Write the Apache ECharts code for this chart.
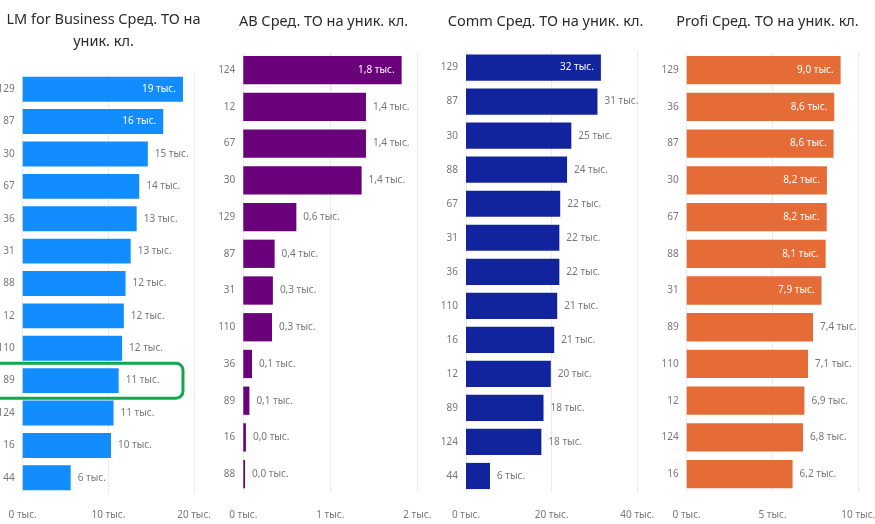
<!DOCTYPE html>
<html>
<head>
<meta charset="utf-8">
<script src="https://cdn.jsdelivr.net/npm/echarts@6/dist/echarts.min.js"></script>
<style>
html, body { margin: 0; padding: 0; background: #fff; }
#chart { width: 875px; height: 524px; }
</style>
</head>
<body>
<div id="chart"></div>
<script>
// Average turnover per unique client, by branch, for four segments (thousands)
const lmCategories = ['129', '87', '30', '67', '36', '31', '88', '12', '110', '89', '124', '16', '44'];
const lmValues = [18.7, 16.4, 14.6, 13.6, 13.3, 12.6, 12.0, 11.8, 11.6, 11.2, 10.6, 10.3, 5.6];
const lmTicks = [0, 10, 20];

const abCategories = ['124', '12', '67', '30', '129', '87', '31', '110', '36', '89', '16', '88'];
const abValues = [1.82, 1.41, 1.41, 1.36, 0.61, 0.36, 0.34, 0.33, 0.10, 0.07, 0.03, 0.02];
const abTicks = [0, 1, 2];

const commCategories = ['129', '87', '30', '88', '67', '31', '36', '110', '16', '12', '89', '124', '44'];
const commValues = [31.5, 30.7, 24.6, 23.6, 22.0, 21.8, 21.8, 21.3, 20.6, 19.8, 18.1, 17.6, 5.6];
const commTicks = [0, 20, 40];

const profiCategories = ['129', '36', '87', '30', '67', '88', '31', '89', '110', '12', '124', '16'];
const profiValues = [8.97, 8.6, 8.56, 8.17, 8.16, 8.1, 7.86, 7.36, 7.07, 6.86, 6.78, 6.17];
const profiTicks = [0, 5, 10];

const highlightCategory = '89';

const FONT = '"Segoe UI", "Noto Sans", "Open Sans", sans-serif';
const LABEL_SIZE = 10;

const panels = [
  { title: 'LM for Business Сред. ТО на\nуник. кл.', cats: lmCategories, vals: lmValues, ticks: lmTicks, digits: 0,
    color: '#118DFF', left: 22.7, width: 171.4, top: 73, height: 421, titleX: 98.5, titleY: 4 },
  { title: 'AB Сред. ТО на уник. кл.', cats: abCategories, vals: abValues, ticks: abTicks, digits: 1,
    color: '#6B007B', left: 243.3, width: 174, top: 51.8, height: 440.7, titleX: 318.5, titleY: 5.5 },
  { title: 'Comm Сред. ТО на уник. кл.', cats: commCategories, vals: commValues, ticks: commTicks, digits: 0,
    color: '#12239E', left: 466, width: 171.3, top: 50.6, height: 442.4, titleX: 540.5, titleY: 5.5 },
  { title: 'Profi Сред. ТО на уник. кл.', cats: profiCategories, vals: profiValues, ticks: profiTicks, digits: 1,
    color: '#E66C37', left: 686.7, width: 171.6, top: 51.8, height: 440.7, titleX: 762.5, titleY: 5.5 }
];

function fmt(v, digits) {
  return (digits === 0 ? String(Math.round(v)) : v.toFixed(digits).replace('.', ',')) + ' тыс.';
}

const measureCtx = document.createElement('canvas').getContext('2d');
measureCtx.font = LABEL_SIZE + 'px ' + FONT;
function textWidth(s) { return measureCtx.measureText(s).width; }

const option = {
  backgroundColor: '#ffffff',
  animation: false,
  title: [], grid: [], xAxis: [], yAxis: [], series: []
};

panels.forEach((p, i) => {
  const max = p.ticks[p.ticks.length - 1];
  const step = p.ticks[1] - p.ticks[0];
  option.title.push({
    text: p.title, left: p.titleX, top: p.titleY, textAlign: 'center',
    textStyle: { fontFamily: FONT, fontSize: 14.5, fontWeight: 'normal', color: '#2b2b2b', lineHeight: 22 }
  });
  option.grid.push({
    left: p.left, top: p.top, width: p.width, height: p.height,
    containLabel: false, outerBoundsMode: 'none'
  });
  option.xAxis.push({
    type: 'value', gridIndex: i, min: p.ticks[0], max: max, interval: step,
    axisLine: { show: false }, axisTick: { show: false },
    splitLine: { show: true, lineStyle: { color: '#ebebeb', width: 1 } },
    axisLabel: {
      color: '#777777', fontFamily: FONT, fontSize: LABEL_SIZE,
      margin: 515 - 5 - (p.top + p.height),
      formatter: v => v + ' тыс.'
    }
  });
  option.yAxis.push({
    type: 'category', gridIndex: i, data: p.cats, inverse: true,
    axisLine: { show: false }, axisTick: { show: false }, splitLine: { show: false },
    axisLabel: { color: '#777777', fontFamily: FONT, fontSize: LABEL_SIZE, margin: 8 }
  });
  // Value labels sit outside the bar unless they would run well past the axis end
  const data = p.vals.map(v => {
    const label = fmt(v, p.digits);
    const endPx = (v / max) * p.width + 7 + textWidth(label);
    const inside = endPx > p.width + 4;
    return {
      value: v,
      label: inside
        ? { position: 'insideRight', color: '#ffffff', distance: 7 }
        : { position: 'right', color: '#777777', distance: 7 }
    };
  });
  option.series.push({
    type: 'bar', xAxisIndex: i, yAxisIndex: i, data: data,
    barCategoryGap: '23%',
    itemStyle: { color: p.color },
    label: {
      show: true, fontFamily: FONT, fontSize: LABEL_SIZE,
      formatter: params => fmt(params.value, p.digits)
    }
  });
});

const chart = echarts.init(document.getElementById('chart'), null, { renderer: 'canvas' });
chart.setOption(option);

// Rounded outline around the highlighted branch in the first panel
const lmMax = Math.max.apply(null, lmValues);
const rowPt = chart.convertToPixel({ xAxisIndex: 0, yAxisIndex: 0 }, [lmMax, highlightCategory]);
chart.setOption({
  graphic: [{
    type: 'rect', z: 100,
    shape: { x: -12, y: rowPt[1] - 17.5, width: rowPt[0] + 12, height: 35, r: 7 },
    style: { fill: 'none', stroke: '#10A84F', lineWidth: 3 }
  }]
});
</script>
</body>
</html>
